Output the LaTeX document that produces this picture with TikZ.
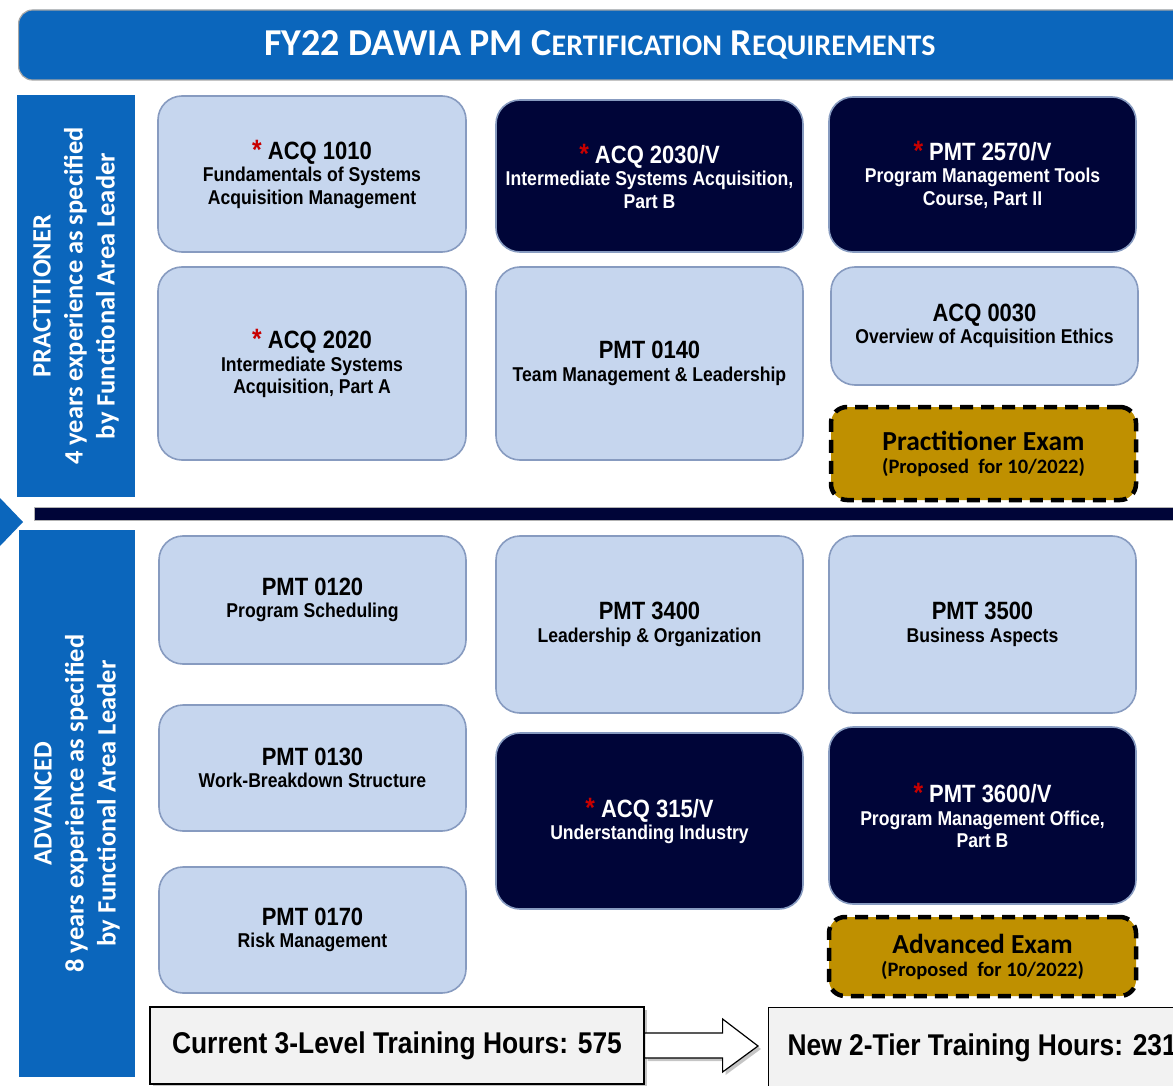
\documentclass[tikz,border=0pt]{standalone}
\usepackage{fontspec}
\setmainfont{Liberation Sans}
\newfontfamily\nar[FakeStretch=0.88]{Liberation Sans}
\newfontfamily\calfont{Carlito}
\usetikzlibrary{shadows,calc}
\definecolor{tblue}{RGB}{11,102,188}
\definecolor{navy}{RGB}{0,5,56}
\definecolor{lightbox}{RGB}{198,214,238}
\definecolor{lborder}{RGB}{135,155,192}
\definecolor{gold}{RGB}{191,144,0}
\definecolor{starred}{RGB}{200,0,0}
\definecolor{lgray}{RGB}{242,242,242}
\newcommand\hd[1]{{\fontsize{25}{25}\selectfont #1}}
\newcommand\st{{\fontsize{28}{25}\selectfont\textcolor{starred}{*}}\ }
\newcommand\smc[1]{{\fontsize{30}{30}\selectfont #1}}
\begin{document}
\begin{tikzpicture}[x=1pt,y=-1pt,
  course/.style={draw=lborder, line width=1.6pt, rounded corners=24pt, fill=lightbox,
    align=center, text=black, inner sep=0pt,
    font=\nar\bfseries\fontsize{20}{22.5}\selectfont},
  dark/.style={course, fill=navy, text=white},
  exam/.style={draw=black, line width=4.5pt, dash pattern=on 13pt off 8pt, fill=gold,
    rounded corners=16pt, align=center, inner sep=0pt,
    font=\calfont\bfseries\fontsize{27.5}{23}\selectfont},
  panel/.style={fill=tblue, text=white, align=center, inner sep=0pt, rotate=90,
    font=\calfont\bfseries\fontsize{26.5}{32}\selectfont},
  hbox/.style={draw=black, line width=1.2pt, fill=lgray, inner sep=0pt,
    drop shadow={shadow xshift=3pt, shadow yshift=-3pt, opacity=0.45},
    font=\nar\bfseries\fontsize{30}{30}\selectfont},
  blockarrow/.style={draw=black, line width=1.2pt, fill=white,
    drop shadow={shadow xshift=3pt, shadow yshift=-3pt, opacity=0.45}}]
\useasboundingbox (0,0) rectangle (1173,1086);
\clip (0,0) rectangle (1173,1086);
\fill[white] (0,0) rectangle (1173,1086);

% title
\node[draw=gray!70, line width=1.2pt, fill=tblue, rounded corners=14pt,
  minimum width=1190pt, minimum height=70pt, anchor=west, inner sep=0pt] (title) at (18,45) {};
\node[text=white, font=\calfont\bfseries\fontsize{38}{40}\selectfont, inner sep=0pt] (titletext) at (600,45)
  {FY22 DAWIA PM C\smc{ERTIFICATION} R\smc{EQUIREMENTS}};

% side panels
\node[panel, minimum width=402pt, minimum height=118pt] (prac) at (76,296)
  {PRACTITIONER\\4 years experience as specified\\by Functional Area Leader};
\node[panel, minimum width=547pt, minimum height=116pt] (adv) at (77,803.5)
  {ADVANCED\\8 years experience as specified\\by Functional Area Leader};
\fill[tblue] (0,498) -- (23,522) -- (0,546) -- cycle;
\draw[gray!60, line width=0.8pt, fill=navy] (34,507) rectangle (1190,520);

% practitioner courses
\node[course, minimum width=308pt, minimum height=156pt] (a1010) at (312,174)
  {\hd{\st ACQ 1010}\\Fundamentals of Systems\\Acquisition Management};
\node[course, minimum width=308pt, minimum height=193pt] (a2020) at (312,363.5)
  {\hd{\st ACQ 2020}\\Intermediate Systems\\Acquisition, Part A};
\node[dark, minimum width=307pt, minimum height=152pt] (a2030) at (649.5,176)
  {\hd{\st ACQ 2030/V}\\Intermediate Systems Acquisition,\\Part B};
\node[course, minimum width=307pt, minimum height=193pt] (p0140) at (649.5,363.5)
  {\hd{PMT 0140}\\Team Management \& Leadership};
\node[dark, minimum width=307pt, minimum height=155pt] (p2570) at (982.5,174.5)
  {\hd{\st PMT 2570/V}\\Program Management Tools\\Course, Part II};
\node[course, minimum width=307pt, minimum height=118pt] (a0030) at (984.5,326)
  {\hd{ACQ 0030}\\Overview of Acquisition Ethics};
\node[exam, minimum width=305pt, minimum height=93pt] (pexam) at (983.5,453.5)
  {Practitioner Exam\\{\fontsize{20.5}{23}\selectfont (Proposed~ for 10/2022)}};

% advanced courses
\node[course, minimum width=307pt, minimum height=128pt] (p0120) at (312.5,600)
  {\hd{PMT 0120}\\Program Scheduling};
\node[course, minimum width=307pt, minimum height=126pt] (p0130) at (312.5,768)
  {\hd{PMT 0130}\\Work-Breakdown Structure};
\node[course, minimum width=307pt, minimum height=126pt] (p0170) at (312.5,930)
  {\hd{PMT 0170}\\Risk Management};
\node[course, minimum width=307pt, minimum height=177pt] (p3400) at (649.5,624.5)
  {\hd{PMT 3400}\\Leadership \& Organization};
\node[dark, minimum width=307pt, minimum height=176pt] (a315) at (649.5,821)
  {\hd{\st ACQ 315/V}\\Understanding Industry};
\node[course, minimum width=307pt, minimum height=177pt] (p3500) at (982.5,624.5)
  {\hd{PMT 3500}\\Business Aspects};
\node[dark, minimum width=307pt, minimum height=177pt] (p3600) at (982.5,815.5)
  {\hd{\st PMT 3600/V}\\Program Management Office,\\Part B};
\node[exam, minimum width=307pt, minimum height=79pt] (aexam) at (982.5,956.5)
  {Advanced Exam\\{\fontsize{20.5}{23}\selectfont (Proposed~ for 10/2022)}};

% training hours
\node[hbox, minimum width=494pt, minimum height=77pt] (cur) at (397,1045.5)
  {Current 3-Level Training Hours: 575};
\node[hbox, minimum height=80pt, anchor=west, inner xsep=19pt] (new) at (768,1047.5)
  {New 2-Tier Training Hours: 231};
\draw[blockarrow] ($(cur.east)+(0,-12.5)$) -- ($(cur.east)+(78,-12.5)$) -- ($(cur.east)+(78,-26.5)$)
  -- ($(new.west)+(-10,-1.5)$) -- ($(cur.east)+(78,26.5)$) -- ($(cur.east)+(78,12.5)$)
  -- ($(cur.east)+(0,12.5)$) -- cycle;
\end{tikzpicture}
\end{document}
